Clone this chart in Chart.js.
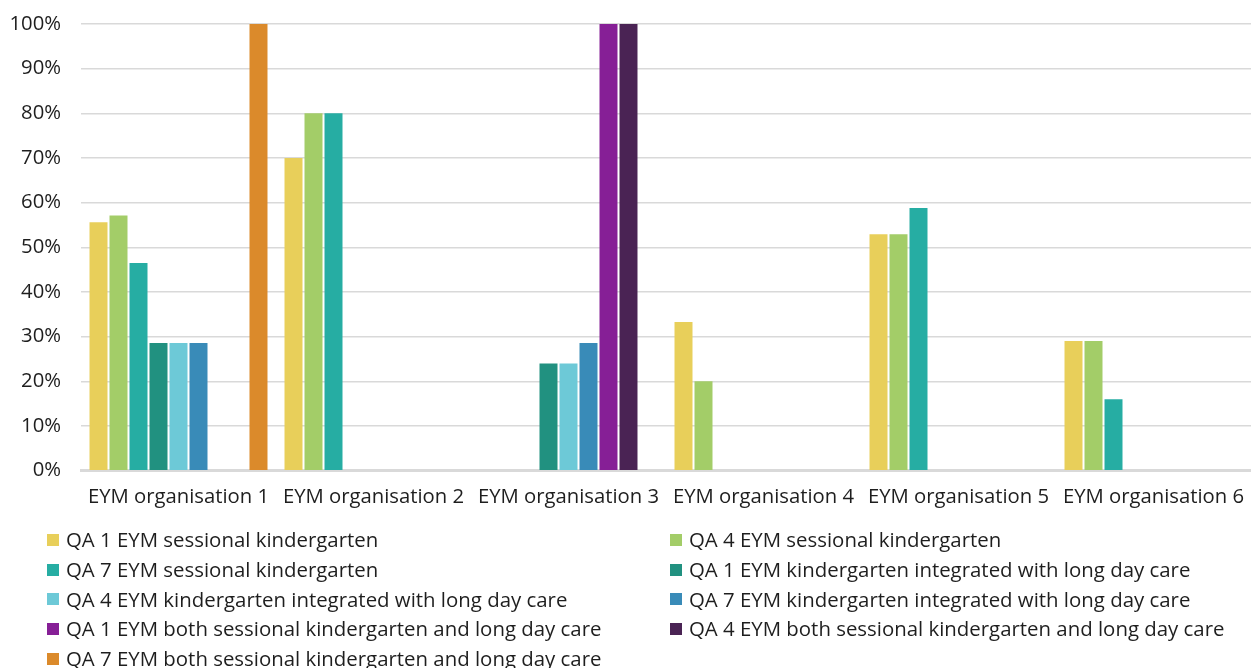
<!DOCTYPE html>
<html>
<head>
<meta charset="utf-8">
<script src="https://cdn.jsdelivr.net/npm/chart.js@4/dist/chart.umd.min.js"></script>
<style>
  html, body { margin: 0; padding: 0; background: #ffffff; }
  body { width: 1251px; height: 668px; position: relative; overflow: hidden; font-family: 'Open Sans', sans-serif; }
  #chartWrap { position: absolute; left: 0; top: 0; width: 1251px; height: 538px; }
  #legend {
    position: absolute; left: 47px; top: 525px;
    display: grid; grid-template-columns: 623px auto;
    font-size: 20.4px; line-height: 29.75px; color: #1e1e1e;
  }
  .item { display: flex; align-items: center; white-space: nowrap; }
  .swatch { width: 12px; height: 12px; margin-right: 7px; flex: none; }
</style>
</head>
<body>
<div id="chartWrap"><canvas id="chart" width="1251" height="538"></canvas></div>
<div id="legend"></div>
<script>
// Organisations along the x axis
const categories = [
  'EYM organisation 1', 'EYM organisation 2', 'EYM organisation 3',
  'EYM organisation 4', 'EYM organisation 5', 'EYM organisation 6'
];

// Share of services (%) per quality area and service type
const qa1Sessional  = [55.6, 70, 0, 33.3, 52.9, 29];
const qa4Sessional  = [57.1, 80, 0, 20, 52.9, 29];
const qa7Sessional  = [46.5, 80, 0, 0, 58.8, 16];
const qa1Integrated = [28.6, 0, 24, 0, 0, 0];
const qa4Integrated = [28.6, 0, 24, 0, 0, 0];
const qa7Integrated = [28.6, 0, 28.6, 0, 0, 0];
const qa1Both       = [0, 0, 100, 0, 0, 0];
const qa4Both       = [0, 0, 100, 0, 0, 0];
const qa7Both       = [100, 0, 0, 0, 0, 0];

const seriesNames = [
  'QA 1 EYM sessional kindergarten',
  'QA 4 EYM sessional kindergarten',
  'QA 7 EYM sessional kindergarten',
  'QA 1 EYM kindergarten integrated with long day care',
  'QA 4 EYM kindergarten integrated with long day care',
  'QA 7 EYM kindergarten integrated with long day care',
  'QA 1 EYM both sessional kindergarten and long day care',
  'QA 4 EYM both sessional kindergarten and long day care',
  'QA 7 EYM both sessional kindergarten and long day care'
];

// Y axis ticks
const yTicks = [0, 10, 20, 30, 40, 50, 60, 70, 80, 90, 100];

const seriesValues = [
  qa1Sessional, qa4Sessional, qa7Sessional,
  qa1Integrated, qa4Integrated, qa7Integrated,
  qa1Both, qa4Both, qa7Both
];
const seriesColors = [
  '#e8cf5a', '#a3cd68', '#26ada3',
  '#219180', '#6dc9d7', '#398bb8',
  '#861f96', '#4a2354', '#db8a2b'
];

const textColor = '#1e1e1e';
const fontFamily = "'Open Sans', sans-serif";

const datasets = seriesNames.map((name, i) => ({
  label: name,
  data: seriesValues[i],
  backgroundColor: seriesColors[i],
  borderWidth: 0,
  barPercentage: 0.9,
  categoryPercentage: 0.923
}));

const chart = new Chart(document.getElementById('chart'), {
  type: 'bar',
  data: { labels: categories, datasets },
  options: {
    responsive: false,
    animation: false,
    devicePixelRatio: 1,
    layout: { padding: { top: 24, right: 0, bottom: 29, left: 0 } },
    plugins: { legend: { display: false }, tooltip: { enabled: false } },
    scales: {
      x: {
        // invisible tick marks give the label gap without widening the side padding
        grid: { display: true, drawOnChartArea: false, drawTicks: true, tickLength: 14, tickColor: 'transparent' },
        border: { display: true, color: '#d9d9d9', width: 3 },
        ticks: {
          color: textColor, padding: 0, maxRotation: 0, autoSkip: false,
          font: { family: fontFamily, size: 20.3 }
        }
      },
      y: {
        min: 0, max: 100,
        afterFit: (scale) => { scale.width = 81; },
        afterBuildTicks: (scale) => { scale.ticks = yTicks.map(v => ({ value: v })); },
        grid: { color: '#d9d9d9', lineWidth: 1.5, drawTicks: true, tickLength: 12, tickColor: 'transparent' },
        border: { display: false },
        ticks: {
          color: textColor, padding: 8,
          font: { family: fontFamily, size: 20.3 },
          callback: (v) => v + '%'
        }
      }
    }
  }
});

// Two-column legend built from the chart's datasets
const legendEl = document.getElementById('legend');
chart.data.datasets.forEach((ds) => {
  const item = document.createElement('div');
  item.className = 'item';
  const sw = document.createElement('span');
  sw.className = 'swatch';
  sw.style.background = ds.backgroundColor;
  const label = document.createElement('span');
  label.textContent = ds.label;
  item.appendChild(sw);
  item.appendChild(label);
  legendEl.appendChild(item);
});
</script>
</body>
</html>
